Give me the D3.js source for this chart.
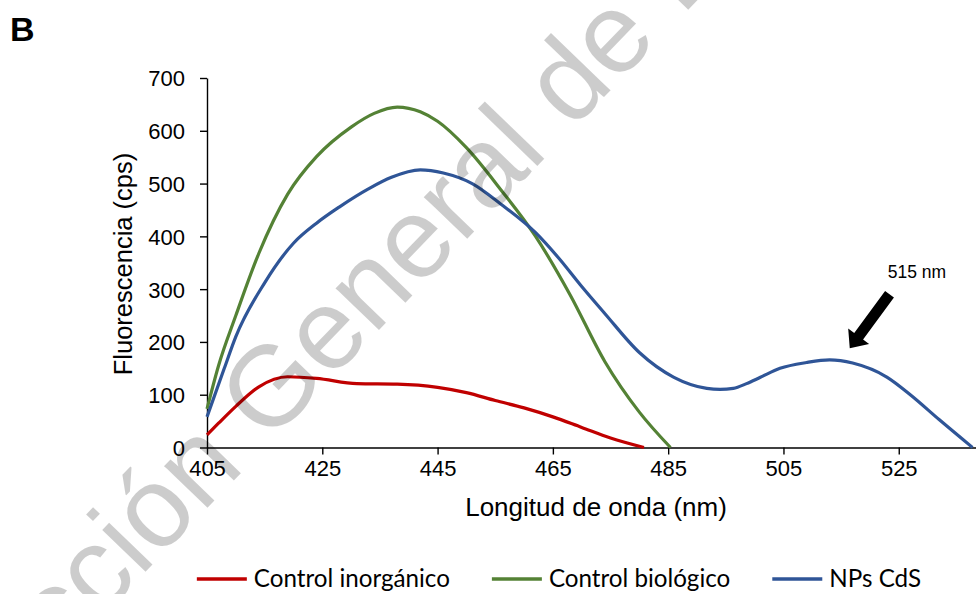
<!DOCTYPE html>
<html>
<head>
<meta charset="utf-8">
<script src="https://cdn.jsdelivr.net/npm/d3@7"></script>
<style>
  html, body { margin: 0; padding: 0; background: #fff; }
  svg { display: block; }
</style>
</head>
<body>
<svg id="chart" width="976" height="594"></svg>
<script>
// Emission spectra (wavelength in nm, fluorescence in cps)
const wlInorganico = [405, 407, 410, 414, 419, 424, 431, 438, 445, 450, 455, 460, 465, 470, 475, 480.8];
const cpsInorganico = [24, 46, 78, 115, 134, 131, 121, 120, 114, 104, 89, 75, 58, 38, 18, 0];

const wlBiologico = [405, 407, 410, 414, 419, 424, 430, 434, 438, 442, 445, 450, 456, 462, 468, 474, 480, 485.4];
const cpsBiologico = [73, 155, 250, 368, 480, 551, 607, 633, 645, 636, 618, 568, 488, 400, 289, 163, 67, 0];

const wlCdS = [405, 408, 410, 415, 420, 424, 428, 433, 437, 442, 446, 451, 456, 462, 466, 470, 474, 480, 486, 491.7, 494, 496.3, 498.6, 501, 504.4, 509, 513, 517, 523, 527, 532, 537.8];
const cpsCdS = [58, 150, 210, 312, 387, 425, 456, 490, 512, 526, 520, 500, 461, 407, 359, 305, 254, 180, 133, 112, 110, 112, 121, 133, 150, 161, 166, 160, 133, 100, 53, 0];

const seriesNames = ["Control inorgánico", "Control biológico", "NPs CdS"];
const seriesColors = ["#C00000", "#548235", "#2F5597"];

const xTicks = [405, 425, 445, 465, 485, 505, 525];
const yTicks = [0, 100, 200, 300, 400, 500, 600, 700];

const peakLabel = "515 nm";
const panelLabel = "B";
const xTitle = "Longitud de onda (nm)";
const yTitle = "Fluorescencia (cps)";
const watermarkText = "Dirección General de Bibliotecas";

const svg = d3.select("#chart");
const axisFont = "'Liberation Sans', Arial, sans-serif";

const x = d3.scaleLinear().domain([405, 538.4]).range([207, 976]);
const y = d3.scaleLinear().domain([0, 700]).range([447.5, 78]);

// Panel letter
svg.append("text")
  .attr("x", 10).attr("y", 41)
  .attr("font-family", axisFont).attr("font-weight", "bold")
  .attr("font-size", 34).attr("fill", "#000")
  .text(panelLabel);

// Axes
const yAxis = svg.append("g")
  .attr("transform", `translate(${x(405)},0)`)
  .call(d3.axisLeft(y).tickValues(yTicks).tickSize(7).tickPadding(15).tickSizeOuter(0));
const xAxis = svg.append("g")
  .attr("transform", `translate(0,${y(0)})`)
  .call(d3.axisBottom(x).tickValues(xTicks).tickSize(7).tickPadding(6).tickSizeOuter(0));

[xAxis, yAxis].forEach(g => {
  g.selectAll("path.domain").attr("stroke", "#000").attr("stroke-width", 1.4);
  g.selectAll(".tick line").attr("stroke", "#000").attr("stroke-width", 1.4);
  g.selectAll(".tick text")
    .attr("font-family", axisFont).attr("font-size", 22).attr("fill", "#000");
});
yAxis.selectAll(".tick text").attr("dy", "0.36em");

// Axis titles
svg.append("text")
  .attr("x", 596).attr("y", 516)
  .attr("text-anchor", "middle")
  .attr("font-family", axisFont).attr("font-size", 26).attr("fill", "#000")
  .text(xTitle);
svg.append("text")
  .attr("transform", "translate(132,264) rotate(-90)")
  .attr("text-anchor", "middle")
  .attr("font-family", axisFont).attr("font-size", 25.5).attr("fill", "#000")
  .text(yTitle);

// Spectra
const line = d3.line()
  .x(d => x(d[0]))
  .y(d => y(d[1]))
  .curve(d3.curveMonotoneX);

const series = [
  d3.zip(wlInorganico, cpsInorganico),
  d3.zip(wlBiologico, cpsBiologico),
  d3.zip(wlCdS, cpsCdS)
];

svg.append("g").selectAll("path")
  .data(series)
  .join("path")
  .attr("d", line)
  .attr("fill", "none")
  .attr("stroke", (d, i) => seriesColors[i])
  .attr("stroke-width", 3.2)
  .attr("stroke-linejoin", "round");

// Peak annotation: block arrow pointing at the CdS emission band
const tipX = x(516.5), tipY = y(188);
svg.append("path")
  .attr("transform", `translate(${tipX},${tipY}) rotate(-53.6)`)
  .attr("d", "M0,0 L15,-13 L15,-5.5 L67,-5.5 L67,5.5 L15,5.5 L15,13 Z")
  .attr("fill", "#000");
svg.append("text")
  .attr("x", tipX + 38).attr("y", tipY - 70)
  .attr("font-family", axisFont).attr("font-size", 17.5).attr("fill", "#000")
  .text(peakLabel);

// Legend
const legendFont = "Lato, 'Open Sans', sans-serif";
const legend = svg.append("g");
let cursor = 0;
seriesNames.forEach((name, i) => {
  const item = legend.append("g").attr("transform", `translate(${cursor},0)`);
  item.append("line")
    .attr("x1", 0).attr("x2", 50).attr("y1", 0).attr("y2", 0)
    .attr("stroke", seriesColors[i]).attr("stroke-width", 3.5);
  const t = item.append("text")
    .attr("x", 57).attr("y", 0).attr("dy", "0.35em")
    .attr("font-family", legendFont).attr("font-size", 24.2).attr("fill", "#000")
    .text(name);
  cursor += 57 + t.node().getComputedTextLength() + 42;
});
const legendWidth = cursor - 42;
legend.attr("transform", `translate(${559 - legendWidth / 2},579)`);

// Library watermark laid over the chart
svg.append("text")
  .attr("transform", "translate(548,155) rotate(-46)")
  .attr("x", -910)
  .attr("font-family", axisFont).attr("font-size", 114)
  .attr("fill", "#000").attr("fill-opacity", 0.2)
  .text(watermarkText);
</script>
</body>
</html>
